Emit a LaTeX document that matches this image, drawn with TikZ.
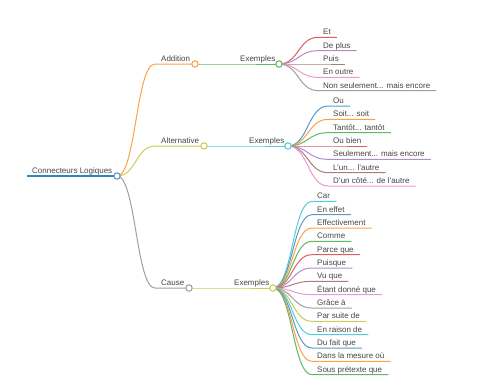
\documentclass[tikz,border=0pt]{standalone}
\usepackage{fontspec}
\setmainfont{Liberation Sans}
\usetikzlibrary{calc}
\definecolor{cBlue}{HTML}{1F77B4}
\definecolor{cOrange}{HTML}{FF7F0E}
\definecolor{cGreen}{HTML}{2CA02C}
\definecolor{cRed}{HTML}{D62728}
\definecolor{cPurple}{HTML}{9467BD}
\definecolor{cBrown}{HTML}{8C564B}
\definecolor{cPink}{HTML}{E377C2}
\definecolor{cGray}{HTML}{7F7F7F}
\definecolor{cOlive}{HTML}{BCBD22}
\definecolor{cCyan}{HTML}{17BECF}
\definecolor{textgray}{HTML}{454545}
\newcommand{\mmdots}{...}
\begin{document}
\begin{tikzpicture}[x=1pt,y=-1pt,
  txt/.style={font=\fontsize{8}{9}\selectfont, text=textgray, inner sep=0pt, anchor=base west},
  dot/.style={circle, draw=#1!80, fill=white, line width=1pt, minimum size=6.4pt, inner sep=0pt},
  lnk/.style={draw=#1!75, line width=1pt}]
\useasboundingbox (0,0) rectangle (480,384);
% root
\coordinate (rs) at (27,176);
\coordinate (rc) at (117,176);
\node[txt] (rt) at (32,173.5) {Connecteurs Logiques};
\draw[draw=cBlue!90, line width=1.5pt] (rs) -- (rc);
% level 1
\foreach \nm/\sx/\cx/\y/\col/\tx in {add/155/195/64/cOrange/Addition,
    alt/155/204/146/cOlive/Alternative, cau/155/189/288/cGray/Cause}{
  \coordinate (\nm-s) at (\sx,\y);
  \coordinate (\nm-c) at (\cx,\y);
  \node[txt] (\nm-t) at (\sx+6,\y-2.5) {\tx};
  \draw[lnk=\col] (rc) .. controls (136,176) and (136,\y) .. (\nm-s) -- (\nm-c);
}
% level 2
\foreach \nm/\sx/\cx/\y/\col in {add/234/279/64/cGreen,
    alt/243/288/146/cCyan, cau/228/273/288/cOlive}{
  \coordinate (\nm-es) at (\sx,\y);
  \coordinate (\nm-ec) at (\cx,\y);
  \node[txt] (\nm-et) at (\sx+6,\y-2.5) {Exemples};
  \draw[lnk=\col] (\nm-c) -- (\nm-es) -- (\nm-ec);
}
% leaves: Addition
\foreach \tx/\col [count=\i] in {Et/cRed, De plus/cPurple, Puis/cBrown,
    En outre/cPink, Non seulement\mmdots{} mais encore/cGray}{
  \pgfmathsetmacro{\ly}{64+(\i-3)*13.333}
  \coordinate (ad-s\i) at (318,\ly);
  \node[txt] (ad-t\i) at (323,\ly-2.5) {\tx};
  \draw[lnk=\col] (add-ec) .. controls (298.5,64) and (298.5,\ly) .. (ad-s\i)
     -- ($(ad-s\i -| ad-t\i.east)+(6,0)$);
}
% leaves: Alternative
\foreach \tx/\col [count=\i] in {Ou/cBlue, Soit\mmdots{} soit/cOrange,
    Tantôt\mmdots{} tantôt/cGreen, Ou bien/cRed, Seulement\mmdots{} mais encore/cPurple,
    L'un\mmdots{} l'autre/cBrown, D'un côté\mmdots{} de l'autre/cPink}{
  \pgfmathsetmacro{\ly}{146+(\i-4)*13.333}
  \coordinate (al-s\i) at (328,\ly);
  \node[txt] (al-t\i) at (333,\ly-2.5) {\tx};
  \draw[lnk=\col] (alt-ec) .. controls (308,146) and (308,\ly) .. (al-s\i)
     -- ($(al-s\i -| al-t\i.east)+(6,0)$);
}
% leaves: Cause
\foreach \tx/\col [count=\i] in {Car/cCyan, En effet/cBlue,
    Effectivement/cOrange, Comme/cGreen, Parce que/cRed, Puisque/cPurple,
    Vu que/cBrown, Étant donné que/cPink, Grâce à/cGray, Par suite de/cOlive,
    En raison de/cCyan, Du fait que/cBlue, Dans la mesure où/cOrange,
    Sous prétexte que/cGreen}{
  \pgfmathsetmacro{\ly}{288+(\i-7.5)*13.333}
  \coordinate (ca-s\i) at (312,\ly);
  \node[txt] (ca-t\i) at (317,\ly-2.5) {\tx};
  \draw[lnk=\col] (cau-ec) .. controls (292.5,288) and (292.5,\ly) .. (ca-s\i)
     -- ($(ca-s\i -| ca-t\i.east)+(6,0)$);
}
% circles
\node[dot=cBlue] (rdot) at (rc) {};
\node[dot=cOrange] (adddot) at (add-c) {};
\node[dot=cOlive] (altdot) at (alt-c) {};
\node[dot=cGray] (caudot) at (cau-c) {};
\node[dot=cGreen] (addedot) at (add-ec) {};
\node[dot=cCyan] (altedot) at (alt-ec) {};
\node[dot=cOlive] (cauedot) at (cau-ec) {};
\end{tikzpicture}
\end{document}
